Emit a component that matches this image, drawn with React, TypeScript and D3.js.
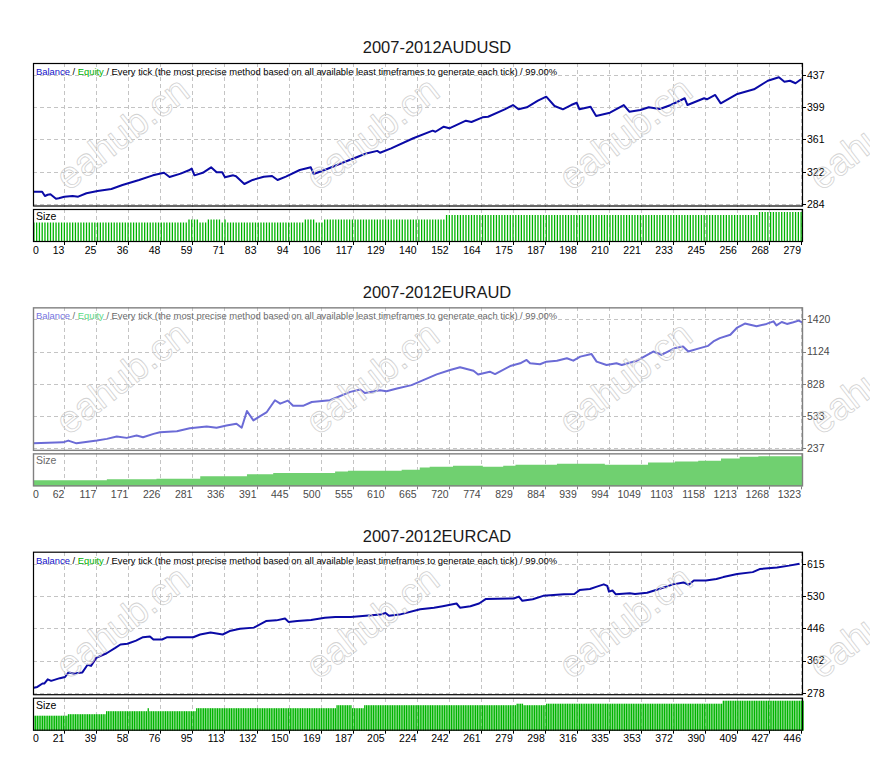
import React, { useEffect, useRef } from 'react';
import * as d3 from 'd3';

const W = 870;
const H = 766;
const LEFT = 33;
const RIGHT = 803;

// ---- 2007-2012 AUDUSD ----
const audusdTicksX = ['0', '13', '25', '36', '48', '59', '71', '83', '94', '106', '117', '129', '140', '152', '164', '175', '187', '198', '210', '221', '233', '245', '256', '268', '279'];
const audusdTicksY = [284, 322, 361, 399, 437];
const audusdTrade = [2, 5, 6, 7, 8, 10, 11, 13, 16, 18, 21, 25, 30, 34, 40, 45, 49, 51, 55, 58, 59, 60, 63, 66, 68, 70, 71, 74, 75, 78, 81, 85, 88, 90, 93, 98, 102, 103, 107, 113, 119, 122, 126, 127, 131, 139, 146, 147, 150, 152, 158, 160, 164, 166, 172, 175, 177, 180, 184, 187, 190, 193, 196, 198, 199, 203, 205, 210, 215, 217, 221, 224, 228, 232, 237, 238, 244, 245, 248, 250, 256, 262, 267, 271, 273, 275, 277, 279];
const audusdBalance = [298.6, 298.6, 293.5, 295, 295.5, 290.3, 290.8, 292.7, 293.5, 292.7, 296.7, 299.4, 301.8, 306.5, 312.5, 318, 321, 316, 320, 324, 326, 318, 321, 327.5, 321.6, 321.6, 315.7, 318, 317, 307.7, 312.5, 316.4, 317.2, 312.5, 316.4, 324.3, 327.5, 319.6, 324.3, 332.3, 340, 344, 347, 344.8, 350, 362, 371, 369.7, 375.7, 373.8, 382.8, 381.3, 386.8, 387.5, 396.3, 401.4, 396.3, 398.7, 406.5, 411.3, 400.2, 396.3, 401.4, 404.1, 396.3, 399.4, 388.4, 392.3, 401.4, 393.5, 395.5, 398.7, 396.7, 401.4, 409.4, 401.4, 409.4, 408.2, 413.3, 403.4, 414.5, 420, 430.2, 434.3, 429, 430.2, 427.2, 431.9];
const audusdSizeFrom = [0, 58, 62, 65, 70, 71, 72, 100, 104, 107, 151, 264];
const audusdSizeLot = [0.13, 0.15, 0.13, 0.15, 0.13, 0.15, 0.13, 0.15, 0.13, 0.15, 0.18, 0.2];

// ---- 2007-2012 EURAUD ----
const euraudTicksX = ['0', '62', '117', '171', '226', '281', '336', '391', '445', '500', '555', '610', '665', '720', '774', '829', '884', '939', '994', '1049', '1103', '1158', '1213', '1268', '1323'];
const euraudTicksY = [237, 533, 828, 1124, 1420];
const euraudTrade = [8, 59, 68, 82, 117, 134, 151, 168, 185, 196, 214, 225, 254, 276, 305, 322, 339, 356, 365, 374, 385, 396, 408, 422, 431, 444, 453, 470, 485, 516, 551, 568, 576, 602, 613, 631, 656, 676, 699, 722, 739, 762, 770, 790, 799, 825, 842, 853, 859, 876, 887, 905, 922, 933, 945, 964, 973, 990, 1007, 1016, 1042, 1070, 1084, 1107, 1121, 1130, 1150, 1164, 1173, 1184, 1202, 1213, 1227, 1236, 1247, 1264, 1276, 1281, 1290, 1299, 1310, 1319, 1325];
const euraudBalance = [283, 292, 308, 283, 308, 324, 345, 333, 354, 339, 370, 385, 394, 422, 438, 426, 447, 463, 426, 579, 493, 530, 570, 678, 647, 675, 627, 627, 662, 678, 755, 777, 745, 770, 761, 786, 817, 863, 915, 955, 980, 949, 915, 940, 918, 992, 1017, 1048, 1017, 1008, 1032, 1041, 1063, 1041, 1078, 1103, 1032, 1002, 1017, 1002, 1041, 1125, 1094, 1156, 1171, 1125, 1156, 1177, 1217, 1248, 1279, 1341, 1381, 1371, 1356, 1378, 1402, 1365, 1396, 1378, 1393, 1408, 1393];
const euraudSizeFrom = [0, 134, 219, 294, 374, 419, 525, 547, 639, 670, 687, 727, 778, 813, 834, 905, 987, 1061, 1107, 1147, 1186, 1218, 1250];
const euraudSizeLot = [0.4, 0.47, 0.51, 0.67, 0.8, 0.88, 0.99, 1.03, 1.1, 1.25, 1.3, 1.37, 1.3, 1.37, 1.43, 1.5, 1.43, 1.59, 1.65, 1.7, 1.85, 1.97, 1.99];

// ---- 2007-2012 EURCAD ----
const eurcadTicksX = ['0', '21', '39', '58', '76', '95', '113', '132', '150', '169', '187', '205', '224', '242', '261', '279', '298', '316', '335', '353', '372', '390', '409', '427', '446'];
const eurcadTicksY = [278, 362, 446, 530, 615];
const eurcadTrade = [3, 5, 8, 9, 11, 13, 18, 21, 23, 26, 31, 34, 36, 39, 45, 50, 53, 57, 62, 66, 70, 72, 77, 80, 87, 95, 99, 105, 112, 116, 122, 130, 137, 143, 148, 150, 155, 163, 171, 177, 186, 203, 206, 208, 214, 226, 234, 239, 247, 249, 255, 260, 264, 280, 283, 285, 291, 297, 309, 315, 318, 324, 328, 332, 334, 335, 337, 339, 347, 350, 357, 364, 372, 378, 381, 384, 391, 397, 401, 409, 418, 422, 432, 439, 445];
const eurcadBalance = [291, 293, 302, 302, 313, 309, 316, 319, 331, 328, 331, 351, 348, 369, 381, 395, 404, 406, 414, 423, 425, 417, 417, 423, 423, 423, 430, 435, 430, 439, 445, 448, 465, 467, 472, 463, 465, 468, 474, 476, 476, 482, 486, 479, 482, 496, 500, 504, 511, 500, 504, 511, 523, 524, 529, 518, 522, 531, 535, 536, 546, 549, 555, 561, 557, 542, 545, 535, 538, 536, 539, 549, 561, 566, 560, 571, 571, 575, 580, 588, 593, 601, 605, 610, 615];
const eurcadSizeFrom = [0, 23, 45, 69, 70, 97, 178, 187, 194, 282, 286, 299, 401];
const eurcadSizeLot = [0.1, 0.11, 0.13, 0.15, 0.13, 0.15, 0.17, 0.15, 0.17, 0.18, 0.17, 0.18, 0.2];

const headerRest = ' / Every tick (the most precise method based on all available least timeframes to generate each tick) / 99.00%';

interface Panel {
  title: string;
  ticksX: string[];
  ticksY: number[];
  trade: number[];
  balance: number[];
  sizeFrom: number[];
  sizeLot: number[];
  domain: [number, number];
  faded: boolean;
}

const panels: Panel[] = [
  { title: '2007-2012AUDUSD', ticksX: audusdTicksX, ticksY: audusdTicksY, trade: audusdTrade, balance: audusdBalance, sizeFrom: audusdSizeFrom, sizeLot: audusdSizeLot, domain: [1.7, 279.7], faded: false },
  { title: '2007-2012EURAUD', ticksX: euraudTicksX, ticksY: euraudTicksY, trade: euraudTrade, balance: euraudBalance, sizeFrom: euraudSizeFrom, sizeLot: euraudSizeLot, domain: [7.5, 1326.5], faded: true },
  { title: '2007-2012EURCAD', ticksX: eurcadTicksX, ticksY: eurcadTicksY, trade: eurcadTrade, balance: eurcadBalance, sizeFrom: eurcadSizeFrom, sizeLot: eurcadSizeLot, domain: [2.5, 447], faded: false },
];

const normal = { frame: '#000', line: '#0a0aa6', size: '#00b400', balance: '#1010c8', equity: '#00b000', text: '#000', axis: '#000' };
const faded = { frame: '#808080', line: '#6b6bd6', size: '#70d070', balance: '#7474e0', equity: '#5cd884', text: '#6a6a6a', axis: '#4a4a4a' };

const FONT = "'Liberation Sans', Arial, sans-serif";

function drawPanel(svg: d3.Selection<SVGSVGElement, unknown, null, undefined>, p: Panel, n: number) {
  const c = p.faded ? faded : normal;
  const top = 63 + 244.35 * n;
  const mainBottom = top + 143.5;
  const sizeTop = top + 146;
  const sizeBottom = top + 179;

  const x = d3.scaleLinear().domain(p.domain).range([LEFT, RIGHT]);
  const y = d3.scaleLinear()
    .domain([p.ticksY[0], p.ticksY[p.ticksY.length - 1]])
    .range([top + 141, top + 12]);
  const gridX = d3.scalePoint<string>().domain(p.ticksX).range([LEFT - 0.7, RIGHT - 2]);

  const g = svg.append('g');

  // title
  g.append('text')
    .attr('x', 437)
    .attr('y', top - 9.7)
    .attr('text-anchor', 'middle')
    .attr('font-family', FONT)
    .attr('font-size', 16.5)
    .attr('fill', '#1a1a1a')
    .text(p.title);

  // white backgrounds
  g.append('rect').attr('x', LEFT).attr('y', top).attr('width', RIGHT - LEFT).attr('height', mainBottom - top).attr('fill', '#fff');
  g.append('rect').attr('x', LEFT).attr('y', sizeTop).attr('width', RIGHT - LEFT).attr('height', sizeBottom - sizeTop).attr('fill', '#fff');

  // grid
  const grid = g.append('g')
    .attr('stroke', '#c4c4c4')
    .attr('stroke-width', 1)
    .attr('stroke-dasharray', '4,3')
    .attr('shape-rendering', 'crispEdges');

  grid.selectAll('.hg')
    .data(p.ticksY)
    .enter()
    .append('line')
    .attr('x1', LEFT)
    .attr('x2', RIGHT)
    .attr('y1', d => Math.round(y(d)) + 0.5)
    .attr('y2', d => Math.round(y(d)) + 0.5);

  const vTicks = p.ticksX.slice(1);
  [[top, mainBottom], [sizeTop, sizeBottom]].forEach(([y1, y2]) => {
    grid.append('g')
      .selectAll('line')
      .data(vTicks)
      .enter()
      .append('line')
      .attr('x1', d => Math.round(gridX(d)!) + 0.5)
      .attr('x2', d => Math.round(gridX(d)!) + 0.5)
      .attr('y1', y1)
      .attr('y2', y2);
  });

  // size
  const trades = d3.range(Math.ceil(p.domain[0]), Math.floor(p.domain[1]) + 1).map(i => ({
    i,
    lot: p.sizeLot[d3.bisectRight(p.sizeFrom, i) - 1],
  }));
  const maxLot = d3.max(p.sizeLot) as number;
  const sizeY = d3.scaleLinear().domain([0, maxLot]).range([sizeBottom, sizeBottom - 30]);
  const step = x(1) - x(0);

  if (step < 1.2) {
    const area = d3.area<{ i: number; lot: number }>()
      .x(d => x(d.i))
      .y0(sizeBottom)
      .y1(d => sizeY(d.lot))
      .curve(d3.curveStepAfter);
    g.append('path').datum(trades).attr('d', area).attr('fill', c.size);
  } else {
    g.append('g')
      .selectAll('rect')
      .data(trades)
      .enter()
      .append('rect')
      .attr('x', d => x(d.i) - 0.6)
      .attr('width', 1.3)
      .attr('y', d => sizeY(d.lot))
      .attr('height', d => sizeBottom - sizeY(d.lot))
      .attr('fill', c.size);
  }

  // balance line
  const clipId = `clip-${n}`;
  g.append('clipPath').attr('id', clipId)
    .append('rect').attr('x', LEFT).attr('y', top).attr('width', RIGHT - LEFT).attr('height', mainBottom - top);

  const pts = p.trade.map((t, k) => ({ t, v: p.balance[k] }));
  const line = d3.line<{ t: number; v: number }>()
    .x(d => x(d.t))
    .y(d => y(d.v));
  g.append('path')
    .datum(pts)
    .attr('clip-path', `url(#${clipId})`)
    .attr('fill', 'none')
    .attr('stroke', c.line)
    .attr('stroke-width', 2)
    .attr('stroke-linejoin', 'round')
    .attr('d', line);

  // frames
  g.append('rect').attr('x', LEFT + 0.5).attr('y', top + 0.5).attr('width', RIGHT - LEFT - 1).attr('height', mainBottom - top - 1)
    .attr('fill', 'none').attr('stroke', c.frame).attr('stroke-width', p.faded ? 1.4 : 1.2);
  g.append('rect').attr('x', LEFT + 0.5).attr('y', sizeTop + 0.5).attr('width', RIGHT - LEFT - 1).attr('height', sizeBottom - sizeTop - 1)
    .attr('fill', 'none').attr('stroke', c.frame).attr('stroke-width', p.faded ? 1.4 : 1.2);

  // header, scaled so it ends where the reference's does
  const header = g.append('text')
    .attr('x', 36)
    .attr('y', top + 12)
    .attr('font-family', FONT)
    .attr('font-size', 10.5);
  header.append('tspan').attr('fill', c.balance).text('Balance');
  header.append('tspan').attr('fill', c.text).text(' / ');
  header.append('tspan').attr('fill', c.equity).text('Equity');
  header.append('tspan').attr('fill', c.text).text(headerRest);
  const natural = (header.node() as SVGTextElement).getComputedTextLength();
  if (natural > 0) header.attr('font-size', Math.min(11.5, 10.5 * 522 / natural));

  g.append('text')
    .attr('x', 36)
    .attr('y', sizeTop + 11)
    .attr('font-family', FONT)
    .attr('font-size', 10.5)
    .attr('fill', c.text)
    .text('Size');

  // y axis
  g.append('g')
    .selectAll('line')
    .data(p.ticksY)
    .enter()
    .append('line')
    .attr('x1', RIGHT)
    .attr('x2', RIGHT + 3)
    .attr('y1', d => Math.round(y(d)) + 0.5)
    .attr('y2', d => Math.round(y(d)) + 0.5)
    .attr('stroke', c.frame);

  g.append('g')
    .selectAll('text')
    .data(p.ticksY)
    .enter()
    .append('text')
    .attr('x', RIGHT + 4)
    .attr('y', d => y(d) + 3.8)
    .attr('font-family', FONT)
    .attr('font-size', 10.5)
    .attr('fill', c.axis)
    .text(d => String(d));

  // x axis
  g.append('g')
    .selectAll('line')
    .data(vTicks)
    .enter()
    .append('line')
    .attr('x1', d => Math.round(gridX(d)!) + 0.5)
    .attr('x2', d => Math.round(gridX(d)!) + 0.5)
    .attr('y1', sizeBottom)
    .attr('y2', sizeBottom + 3)
    .attr('stroke', c.frame);

  g.append('g')
    .selectAll('text')
    .data(p.ticksX)
    .enter()
    .append('text')
    .attr('x', (d, k) => (k === 0 ? LEFT : gridX(d)!))
    .attr('y', sizeBottom + 11.5)
    .attr('text-anchor', (d, k) => (k === 0 ? 'start' : 'end'))
    .attr('font-family', FONT)
    .attr('font-size', 10.5)
    .attr('fill', c.axis)
    .text(d => d);
}

const App: React.FC = () => {
  const svgRef = useRef<SVGSVGElement>(null);

  useEffect(() => {
    if (!svgRef.current) return;
    document.body.style.margin = '0';
    const svg = d3.select(svgRef.current);
    svg.selectAll('*').remove();

    panels.forEach((p, n) => drawPanel(svg, p, n));

    // eahub.cn watermark, thin outlined letters
    const marks = svg.append('g')
      .attr('fill', 'none')
      .attr('stroke', '#d2d2d2')
      .attr('stroke-width', 0.8)
      .attr('font-family', FONT)
      .attr('font-size', 38);
    [0, 1, 2].forEach(n => {
      [122, 372, 625, 875].forEach(cx => {
        const cy = 63 + 244.35 * n + 70;
        marks.append('text')
          .attr('transform', `translate(${cx},${cy}) rotate(-38)`)
          .attr('text-anchor', 'middle')
          .attr('dy', '0.35em')
          .text('eahub.cn');
      });
    });
  }, []);

  return <svg ref={svgRef} width={W} height={H} style={{ display: 'block', background: '#fff' }} />;
};

export default App;
